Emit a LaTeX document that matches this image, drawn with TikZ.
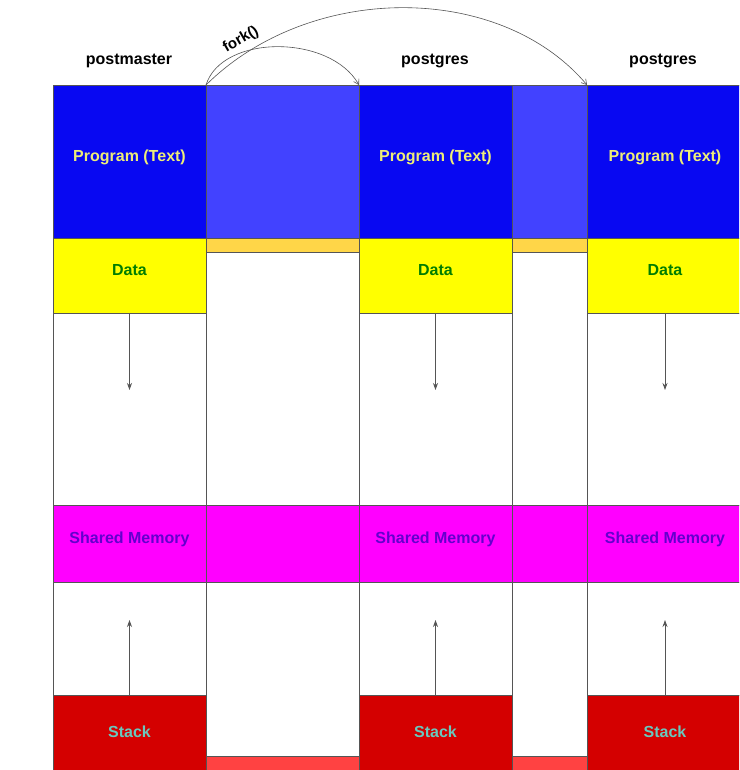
\documentclass[tikz,border=0pt]{standalone}
\usepackage{fontspec}
\setmainfont{Liberation Sans}
\usetikzlibrary{arrows.meta}

% block colours
\definecolor{progblue}{RGB}{8,8,242}
\definecolor{gapblue}{RGB}{66,66,255}
\definecolor{datayellow}{RGB}{255,255,0}
\definecolor{gapgold}{RGB}{255,214,72}
\definecolor{shmmagenta}{RGB}{255,0,255}
\definecolor{stackred}{RGB}{212,0,0}
\definecolor{gapred}{RGB}{255,66,66}
\definecolor{edgegray}{RGB}{85,85,85}
% label colours
\definecolor{progtext}{RGB}{238,238,120}
\definecolor{datatext}{RGB}{0,125,0}
\definecolor{shmtext}{RGB}{100,0,205}
\definecolor{stacktext}{RGB}{105,200,190}

\tikzset{
  seg/.style={draw=edgegray, line width=0.7pt, anchor=north west,
    inner sep=0pt, outer sep=0pt, font=\fontsize{16}{16}\selectfont\bfseries,
    text height=11.5pt, text depth=12.5pt},
  proclabel/.style={font=\fontsize{16}{16}\selectfont\bfseries, text=black},
  growth/.style={draw=edgegray, line width=0.8pt, -{Stealth[length=7pt,width=5pt]}},
  forkarc/.style={draw=edgegray, line width=0.6pt, -{Straight Barb[length=5pt,width=6pt]}},
}

% one process image: program, data, heap, shared memory, free, stack
\newcommand{\procimage}[3]{%
  \node[seg, fill=progblue, text=progtext, minimum width=#3pt, minimum height=153pt]
    (prog#1) at (#2,85) {Program (Text)};
  \node[seg, fill=datayellow, text=datatext, minimum width=#3pt, minimum height=75pt]
    (data#1) at (#2,238) {Data};
  \node[seg, fill=white, minimum width=#3pt, minimum height=192pt]
    (heap#1) at (#2,313) {};
  \node[seg, fill=shmmagenta, text=shmtext, minimum width=#3pt, minimum height=77pt]
    (shm#1) at (#2,505) {Shared Memory};
  \node[seg, fill=white, minimum width=#3pt, minimum height=113pt]
    (free#1) at (#2,582) {};
  \node[seg, fill=stackred, text=stacktext, minimum width=#3pt, minimum height=85pt]
    (stack#1) at (#2,695) {Stack};
  \coordinate (heapend#1) at ([yshift=-77pt]data#1.south);
  \coordinate (stackend#1) at ([yshift=75pt]stack#1.north);
  \draw[growth] (data#1.south) -- (heapend#1);
  \draw[growth] (stack#1.north) -- (stackend#1);
}

% address space between two process images
\newcommand{\gapimage}[3]{%
  \node[seg, fill=gapblue, minimum width=#3pt, minimum height=153pt] (gprog#1) at (#2,85) {};
  \node[seg, fill=gapgold, minimum width=#3pt, minimum height=14pt, text height=0pt, text depth=0pt] (gdata#1) at (#2,238) {};
  \node[seg, fill=white, minimum width=#3pt, minimum height=253pt] (gheap#1) at (#2,252) {};
  \node[seg, fill=shmmagenta, minimum width=#3pt, minimum height=77pt] (gshm#1) at (#2,505) {};
  \node[seg, fill=white, minimum width=#3pt, minimum height=174pt] (gfree#1) at (#2,582) {};
  \node[seg, fill=gapred, minimum width=#3pt, minimum height=30pt] (gstack#1) at (#2,756) {};
}

\begin{document}
\begin{tikzpicture}[x=1pt, y=-1pt]
  \useasboundingbox (0,0) rectangle (739,770);
  \fill[white] (0,0) rectangle (739,770);
  \clip (0,0) rectangle (739,770);

  \procimage{A}{53}{153}
  \gapimage{B}{206}{153}
  \procimage{C}{359}{153}
  \gapimage{D}{512}{75}
  \procimage{E}{587}{156}

  % process names
  \node[proclabel] (nameA) at (129,61) {postmaster};
  \node[proclabel] (nameC) at (435,61) {postgres};
  \node[proclabel] (nameE) at (663,61) {postgres};

  % fork arcs
  \draw[forkarc] (gprogB.north west) .. controls (222,34) and (330,34) .. (progC.north west);
  \draw[forkarc] (gprogB.north west) .. controls (310,-18) and (500,-18) .. (progE.north west);
  \node[font=\fontsize{15}{15}\selectfont\bfseries, rotate=30, inner sep=1pt] (forklabel) at (241,40) {fork()};
\end{tikzpicture}
\end{document}
